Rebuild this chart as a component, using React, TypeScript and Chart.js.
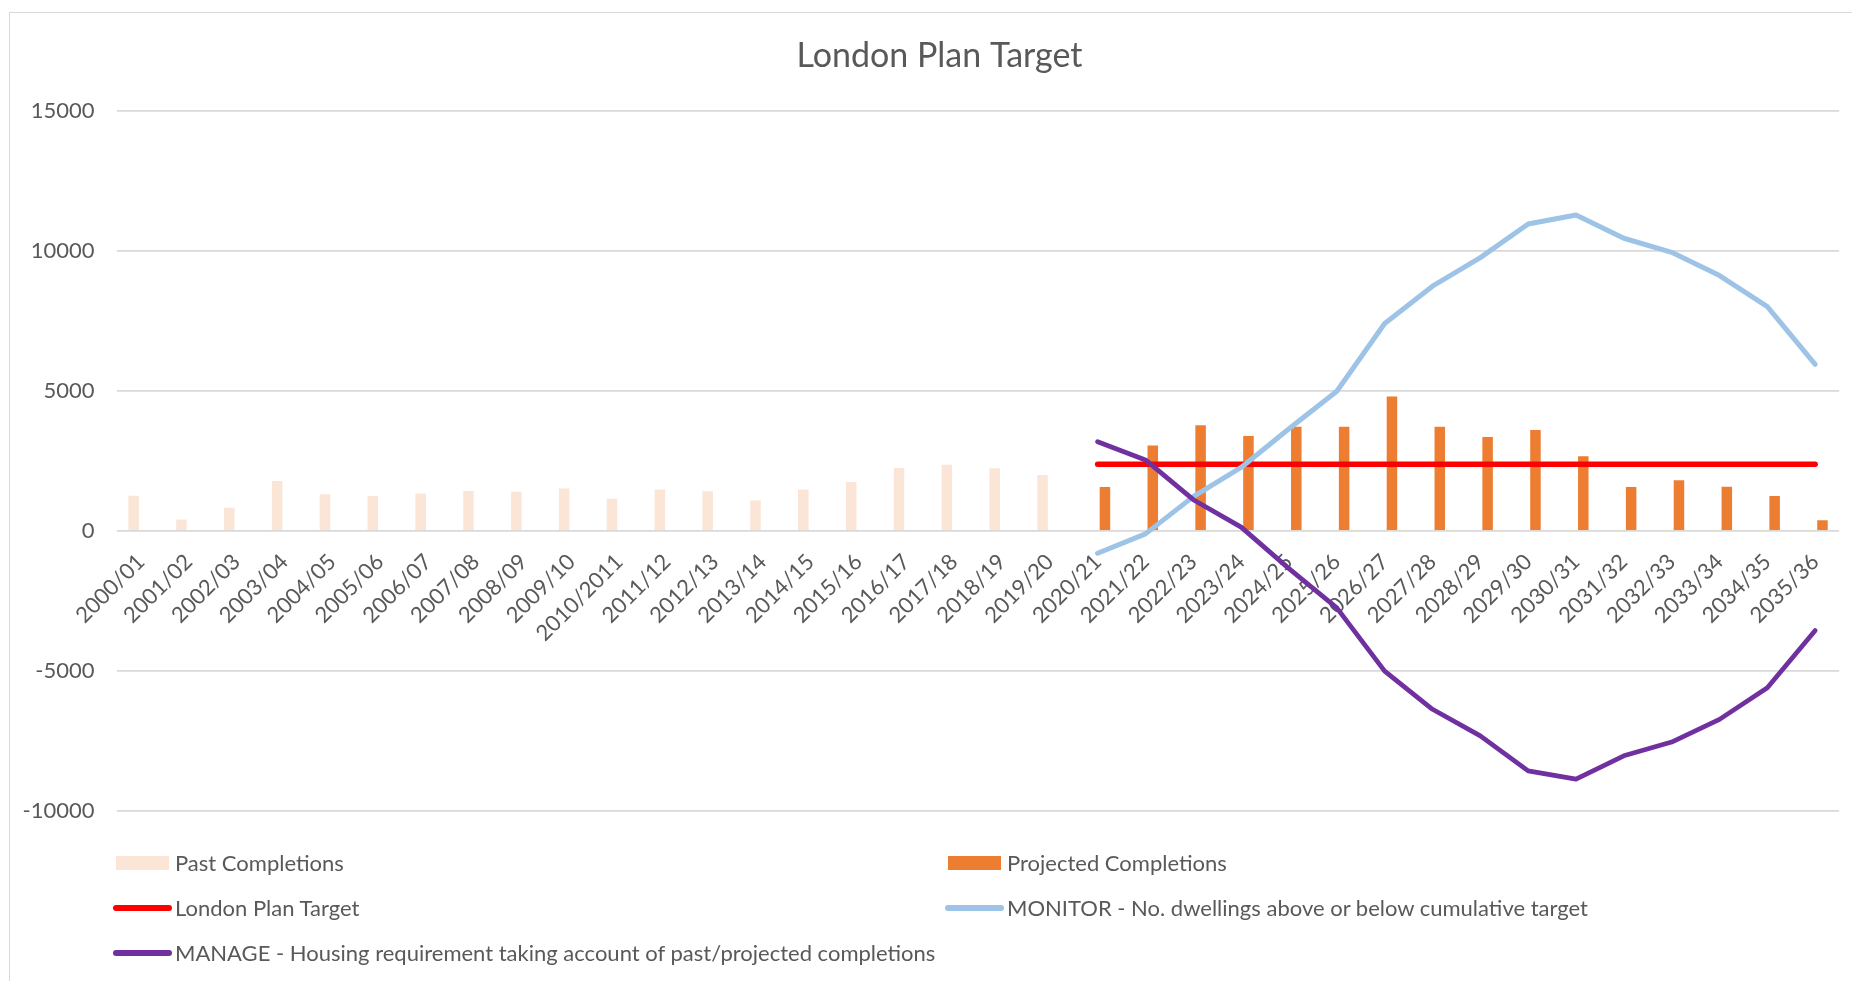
import React, { useEffect, useRef } from 'react';
import { Chart, registerables } from 'chart.js';

Chart.register(...registerables);

const categories = [
  '2000/01', '2001/02', '2002/03', '2003/04', '2004/05', '2005/06', '2006/07', '2007/08',
  '2008/09', '2009/10', '2010/2011', '2011/12', '2012/13', '2013/14', '2014/15', '2015/16',
  '2016/17', '2017/18', '2018/19', '2019/20', '2020/21', '2021/22', '2022/23', '2023/24',
  '2024/25', '2025/26', '2026/27', '2027/28', '2028/29', '2029/30', '2030/31', '2031/32',
  '2032/33', '2033/34', '2034/35', '2035/36',
];

const pastCompletions = [
  1250, 400, 820, 1780, 1300, 1240, 1330, 1420, 1390, 1510, 1140, 1470, 1410, 1080, 1470, 1740,
  2240, 2360, 2230, 1990, null, null, null, null, null, null, null, null, null, null, null, null,
  null, null, null, null,
];

const projectedCompletions = [
  null, null, null, null, null, null, null, null, null, null, null, null, null, null, null, null,
  null, null, null, null, 1560, 3040, 3770, 3380, 3710, 3710, 4790, 3710, 3350, 3600, 2660, 1560,
  1800, 1570, 1240, 380,
];

const londonPlanTarget = [
  null, null, null, null, null, null, null, null, null, null, null, null, null, null, null, null,
  null, null, null, null, 2375, 2375, 2375, 2375, 2375, 2375, 2375, 2375, 2375, 2375, 2375, 2375,
  2375, 2375, 2375, 2375,
];

const monitor = [
  null, null, null, null, null, null, null, null, null, null, null, null, null, null, null, null,
  null, null, null, null, -800, -110, 1220, 2260, 3640, 4980, 7400, 8730, 9750, 10950, 11270, 10440,
  9940, 9110, 8000, 5940,
];

const manage = [
  null, null, null, null, null, null, null, null, null, null, null, null, null, null, null, null,
  null, null, null, null, 3180, 2530, 1110, 130, -1350, -2750, -5010, -6370, -7320, -8570, -8860, -8030,
  -7540, -6730, -5600, -3560,
];

const yMin = -10000;
const yMax = 15000;
const yStep = 5000;

const titleText = 'London Plan Target';
const seriesNames = [
  'Past Completions',
  'Projected Completions',
  'London Plan Target',
  'MONITOR - No. dwellings above or below cumulative target',
  'MANAGE - Housing requirement taking account of past/projected completions',
];

const FONT = "Lato, 'Open Sans', 'Noto Sans', sans-serif";
const TEXT = '#595959';
const GRID = '#d9d9d9';
const C_PAST = '#FBE5D6';
const C_PROJ = '#ED7D31';
const C_TARGET = '#FF0000';
const C_MONITOR = '#9DC3E6';
const C_MANAGE = '#7030A0';

const CANVAS_W = 1852;
const CANVAS_H = 981;

type LegendItem = { label: string; color: string; kind: 'box' | 'line'; x: number; y: number };

const legendItems: LegendItem[] = [
  { label: seriesNames[0], color: C_PAST, kind: 'box', x: 116, y: 863 },
  { label: seriesNames[1], color: C_PROJ, kind: 'box', x: 948, y: 863 },
  { label: seriesNames[2], color: C_TARGET, kind: 'line', x: 116, y: 908 },
  { label: seriesNames[3], color: C_MONITOR, kind: 'line', x: 948, y: 908 },
  { label: seriesNames[4], color: C_MANAGE, kind: 'line', x: 116, y: 953 },
];

// Excel centres the title over the whole chart frame, a little right of the canvas centre
const titleShift = {
  id: 'titleShift',
  afterLayout(chart: any) {
    const tb = chart.titleBlock;
    if (tb) {
      tb.left = 38;
    }
  },
};

export default function App() {
  const canvasRef = useRef<HTMLCanvasElement | null>(null);

  useEffect(() => {
    const canvas = canvasRef.current;
    if (!canvas) return;
    const lineCommon = {
      type: 'line' as const,
      pointRadius: 0,
      pointHoverRadius: 0,
      borderCapStyle: 'round' as const,
      borderJoinStyle: 'round' as const,
      tension: 0,
      fill: false,
    };
    const chart = new Chart(canvas, {
      type: 'bar',
      plugins: [titleShift],
      data: {
        labels: categories,
        datasets: [
          {
            type: 'bar',
            label: seriesNames[0],
            data: pastCompletions,
            backgroundColor: C_PAST,
            categoryPercentage: 0.61,
            barPercentage: 0.72,
            order: 4,
          },
          {
            type: 'bar',
            label: seriesNames[1],
            data: projectedCompletions,
            backgroundColor: C_PROJ,
            categoryPercentage: 0.61,
            barPercentage: 0.72,
            order: 5,
          },
          {
            ...lineCommon,
            label: seriesNames[2],
            data: londonPlanTarget,
            borderColor: C_TARGET,
            backgroundColor: C_TARGET,
            borderWidth: 5.5,
            order: 3,
          },
          {
            ...lineCommon,
            label: seriesNames[3],
            data: monitor,
            borderColor: C_MONITOR,
            backgroundColor: C_MONITOR,
            borderWidth: 5,
            order: 2,
          },
          {
            ...lineCommon,
            label: seriesNames[4],
            data: manage,
            borderColor: C_MANAGE,
            backgroundColor: C_MANAGE,
            borderWidth: 4.75,
            order: 1,
          },
        ] as any,
      },
      options: {
        responsive: false,
        animation: false,
        layout: { padding: { left: 0, right: 11, top: 0, bottom: 170 } },
        plugins: {
          legend: { display: false },
          tooltip: { enabled: false },
          title: {
            display: true,
            text: titleText,
            color: TEXT,
            font: { family: FONT, size: 34, weight: 'normal' },
            padding: { top: 36, bottom: 33.7 },
          },
        },
        scales: {
          x: {
            type: 'category',
            position: { y: 0 } as any,
            offset: true,
            grid: { display: false, drawTicks: false },
            border: { display: false },
            ticks: {
              color: TEXT,
              font: { family: FONT, size: 22 },
              minRotation: 45,
              maxRotation: 45,
              autoSkip: false,
              padding: 18,
            },
          },
          y: {
            type: 'linear',
            min: yMin,
            max: yMax,
            afterFit: (scale: any) => {
              scale.width = 117;
            },
            grid: { color: GRID, lineWidth: 1.75, drawTicks: false },
            border: { display: false },
            ticks: {
              stepSize: yStep,
              color: TEXT,
              font: { family: FONT, size: 22 },
              padding: 22.5,
              callback: (v: any) => String(v),
            },
          },
        },
      },
    });
    const fonts = (document as any).fonts;
    if (fonts && fonts.load) {
      Promise.all([fonts.load('22px Lato'), fonts.load('34px Lato')]).then(() => {
        try { chart.update(); } catch (e) { /* destroyed */ }
      });
    }
    return () => {
      chart.destroy();
    };
  }, []);

  return (
    <div
      style={{
        position: 'fixed',
        left: 0,
        top: 0,
        width: 1852,
        height: 981,
        background: '#ffffff',
        overflow: 'hidden',
      }}
    >
      <div
        style={{
          position: 'absolute',
          left: 9,
          top: 12,
          width: 1900,
          height: 1000,
          border: `1px solid ${GRID}`,
          boxSizing: 'border-box',
        }}
      />
      <canvas
        ref={canvasRef}
        width={CANVAS_W}
        height={CANVAS_H}
        style={{ position: 'absolute', left: 0, top: 0, width: CANVAS_W, height: CANVAS_H }}
      />
      {legendItems.map((it) => (
        <div
          key={it.label}
          style={{
            position: 'absolute',
            left: it.x - 3,
            top: it.y - 15,
            height: 30,
            display: 'flex',
            alignItems: 'center',
            whiteSpace: 'nowrap',
          }}
        >
          {it.kind === 'box' ? (
            <span
              style={{
                display: 'inline-block',
                width: 53,
                height: 14,
                marginLeft: 3,
                marginRight: 6,
                background: it.color,
              }}
            />
          ) : (
            <span
              style={{
                display: 'inline-block',
                width: 59,
                height: 5.5,
                borderRadius: 3,
                marginRight: 3,
                background: it.color,
              }}
            />
          )}
          <span style={{ fontFamily: FONT, fontSize: 22, color: TEXT, lineHeight: '30px' }}>{it.label}</span>
        </div>
      ))}
    </div>
  );
}
